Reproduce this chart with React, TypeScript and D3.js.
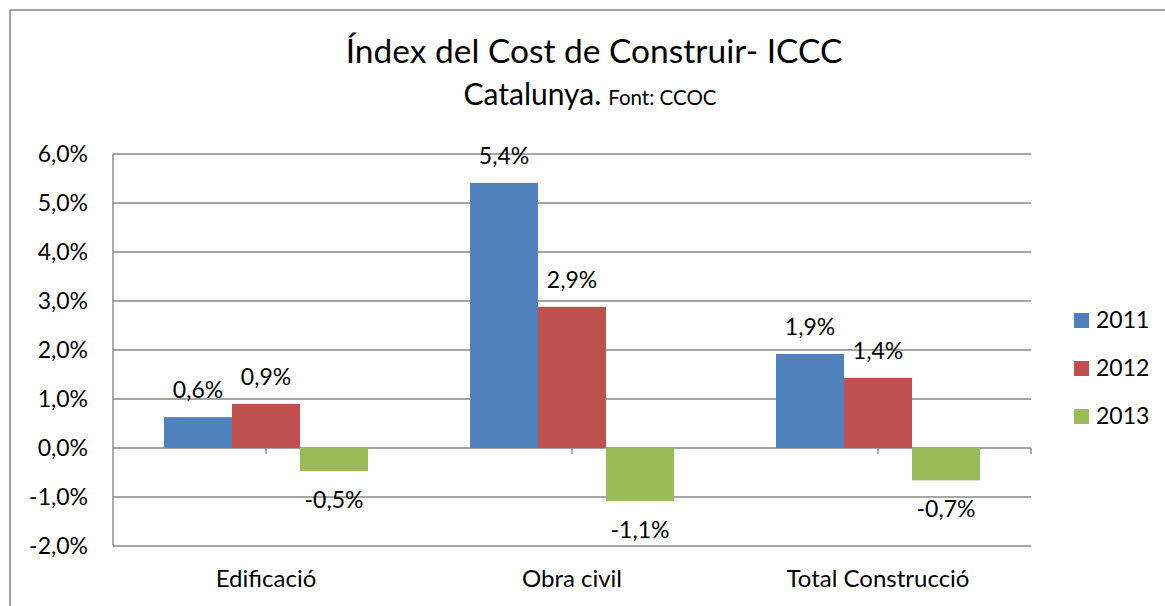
import { useMemo } from 'react';
import * as d3 from 'd3';

// chart values
const categories = ['Edificació', 'Obra civil', 'Total Construcció'];
const years = ['2011', '2012', '2013'];
const values2011 = [0.63, 5.41, 1.92];
const values2012 = [0.9, 2.88, 1.43];
const values2013 = [-0.47, -1.08, -0.66];
const yTicks = [-2, -1, 0, 1, 2, 3, 4, 5, 6];
const colors = ['#4F81BD', '#C0504D', '#9BBB59'];

const W = 1165,
	H = 606;
const plot = { left: 113, right: 1031, top: 154, bottom: 546 };
const font = 'Lato, "Open Sans", sans-serif';
const grid = '#878787';

const fmt = (v: number) => v.toFixed(1).replace('.', ',') + '%';

export default function App() {
	const series = [values2011, values2012, values2013];

	const x = useMemo(
		() => d3.scaleBand().domain(categories).range([plot.left, plot.right]).padding(0),
		[]
	);
	const y = useMemo(() => d3.scaleLinear().domain([-2, 6]).range([plot.bottom, plot.top]), []);
	// bars take the middle two thirds of each band
	const x1 = useMemo(
		() =>
			d3
				.scaleBand()
				.domain(years)
				.range([x.bandwidth() / 6, (x.bandwidth() * 5) / 6]),
		[x]
	);

	const tickXs = [...categories.map((c) => x(c)! + x.bandwidth() / 2), plot.right];

	return (
		<svg
			width={W}
			height={H}
			style={{ position: 'absolute', left: 0, top: 0, background: '#fff' }}
			fontFamily={font}
			fontWeight={400}
		>
			{/* chart border */}
			<rect x={10} y={10} width={W + 20} height={H + 20} fill='#fff' stroke={grid} strokeWidth={1.5} />

			{/* title */}
			<text x={594} y={63} textAnchor='middle' fontSize={33.5} fill='#000'>
				Índex del Cost de Construir- ICCC
			</text>
			<text x={590} y={105} textAnchor='middle' fill='#000'>
				<tspan fontSize={30}>Catalunya.</tspan>
				<tspan fontSize={20.5} dx={7}>
					Font: CCOC
				</tspan>
			</text>

			{/* gridlines + y labels */}
			{yTicks.map((t) => (
				<g key={t}>
					<line x1={plot.left} x2={plot.right} y1={y(t)} y2={y(t)} stroke={grid} strokeWidth={1.4} />
					<text x={88} y={y(t)} dy='0.36em' textAnchor='end' fontSize={23} fill='#000'>
						{fmt(t)}
					</text>
				</g>
			))}
			<line x1={plot.left} x2={plot.left} y1={plot.top} y2={plot.bottom} stroke={grid} strokeWidth={1.4} />

			{/* bars */}
			{categories.map((c, ci) => (
				<g key={c} transform={`translate(${x(c)},0)`}>
					{series.map((s, si) => {
						const v = s[ci];
						return (
							<rect
								key={si}
								x={x1(years[si])}
								y={Math.min(y(v), y(0))}
								width={x1.bandwidth()}
								height={Math.abs(y(v) - y(0))}
								fill={colors[si]}
							/>
						);
					})}
				</g>
			))}

			{/* zero axis ticks */}
			{tickXs.map((tx, i) => (
				<line key={i} x1={tx} x2={tx} y1={y(0)} y2={y(0) + 6} stroke={grid} strokeWidth={1.4} />
			))}

			{/* data labels */}
			{categories.map((c, ci) =>
				series.map((s, si) => {
					const v = s[ci];
					const cx = x(c)! + x1(years[si])! + x1.bandwidth() / 2;
					const ly = v >= 0 ? y(v) - 19 : y(v) + 37;
					return (
						<text key={c + si} x={cx} y={ly} textAnchor='middle' fontSize={23} fill='#000'>
							{fmt(v)}
						</text>
					);
				})
			)}

			{/* category labels */}
			{categories.map((c) => (
				<text
					key={c}
					x={x(c)! + x.bandwidth() / 2}
					y={587}
					textAnchor='middle'
					fontSize={24}
					fill='#000'
				>
					{c}
				</text>
			))}

			{/* legend */}
			{years.map((yr, i) => (
				<g key={yr} transform={`translate(1074, ${313 + i * 48})`}>
					<rect width={15} height={15} fill={colors[i]} />
					<text x={22} y={15} fontSize={23} fill='#000'>
						{yr}
					</text>
				</g>
			))}
		</svg>
	);
}
